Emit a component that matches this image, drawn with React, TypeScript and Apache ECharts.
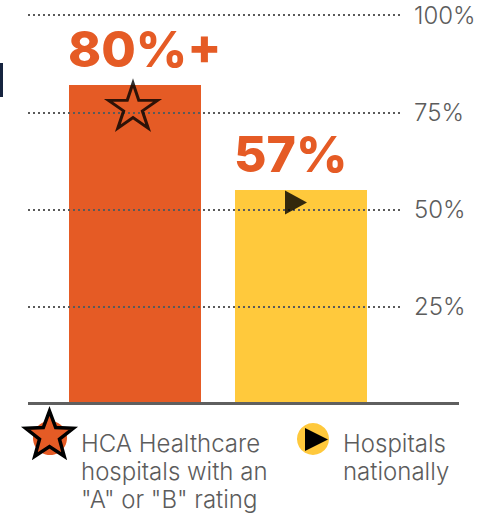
import React, { useEffect, useRef } from "react";
import * as echarts from "echarts";

const categories = ["HCA Healthcare hospitals with an \"A\" or \"B\" rating", "Hospitals nationally"];
const barValues = [82, 55];
const barLabels = ["80%+", "57%"];
const markerValues = [76.7, 51.8];
const barColors = ["#E55B25", "#FFC93C"];
const tickValues = [0, 25, 50, 75, 100];
const legendLines1 = ["HCA Healthcare", "hospitals with an", "\"A\" or \"B\" rating"];
const legendLines2 = ["Hospitals", "nationally"];

const STAR_PATH =
  "path://M50 0 L61.23 34.55 L97.55 34.55 L68.16 55.9 L79.39 90.45 L50 69.1 L20.61 90.45 L31.84 55.9 L2.45 34.55 L38.77 34.55 Z";

function starPoints(cx: number, cy: number, R: number, r: number): number[][] {
  const pts: number[][] = [];
  for (let i = 0; i < 10; i++) {
    const a = ((-90 + i * 36) * Math.PI) / 180;
    const rad = i % 2 === 0 ? R : r;
    pts.push([cx + rad * Math.cos(a), cy + rad * Math.sin(a)]);
  }
  return pts;
}

const GRAY = "#5c5c5c";
const FONT = "Inter, Lato, sans-serif";

export default function App() {
  const ref = useRef<HTMLDivElement>(null);
  useEffect(() => {
    if (!ref.current) return;
    const chart = echarts.init(ref.current, null, { renderer: "svg" });
    const gridTop = 15;
    const gridBottom = 110;
    const legendText = (t: string, x: number, i: number) => ({
      type: "text",
      x,
      y: 443 + i * 28.3,
      style: {
        text: t,
        fontSize: 24,
        fontFamily: FONT,
        fontWeight: 300,
        fill: GRAY,
        verticalAlign: "middle",
      },
    });
    const option: any = {
      animation: false,
      backgroundColor: "#ffffff",
      grid: [
        { left: 28, right: 87, top: gridTop, bottom: gridBottom },
        { left: 52, right: 103, top: gridTop, bottom: gridBottom },
      ],
      xAxis: [
        { gridIndex: 0, type: "category", data: categories, show: false },
        {
          gridIndex: 1,
          type: "category",
          data: categories,
          axisLine: { show: false },
          axisTick: { show: false },
          axisLabel: { show: false },
        },
      ],
      yAxis: [
        {
          gridIndex: 0,
          type: "value",
          min: tickValues[0],
          max: tickValues[tickValues.length - 1],
          interval: 25,
          position: "right",
          z: 10,
          axisLine: { show: false },
          axisTick: { show: false },
          axisLabel: {
            margin: 14,
            fontSize: 24,
            fontFamily: FONT,
            fontWeight: 300,
            color: GRAY,
            formatter: (v: number) => (v === 0 ? "" : v + "%"),
          },
          splitLine: {
            show: true,
            lineStyle: { color: "#5a5a5a", width: 2, type: [2, 3] },
          },
        },
        {
          gridIndex: 1,
          type: "value",
          min: 0,
          max: 100,
          show: false,
          splitLine: { show: false },
        },
      ],
      series: [
        {
          type: "bar",
          xAxisIndex: 1,
          yAxisIndex: 1,
          barWidth: 132,
          data: barValues.map((v, i) => ({ value: v, itemStyle: { color: barColors[i] } })),
          label: {
            show: true,
            position: [-1, -36],
            align: "left",
            verticalAlign: "middle",
            fontSize: 50,
            fontWeight: 800,
            fontFamily: FONT,
            color: "#E55B25",
            formatter: (p: any) => barLabels[p.dataIndex],
          },
        },
        {
          type: "scatter",
          xAxisIndex: 1,
          yAxisIndex: 1,
          z: 12,
          data: [
            {
              value: markerValues[0],
              symbol: STAR_PATH,
              symbolSize: [49, 45],
              symbolOffset: [-2, 0],
              itemStyle: { color: "rgba(0,0,0,0)", borderColor: "#000000", borderWidth: 3 },
            },
            {
              value: markerValues[1],
              symbol: "triangle",
              symbolSize: [24, 22],
              symbolRotate: -90,
              symbolOffset: [-5, 0],
              itemStyle: { color: "#000000" },
            },
          ],
        },
      ],
      graphic: [
        { type: "rect", shape: { x: 0, y: 63, width: 3, height: 34 }, style: { fill: "#16243f" } },
        {
          type: "line",
          z: 20,
          shape: { x1: 28, y1: 403.5, x2: 459, y2: 403.5 },
          style: { stroke: "#5f5f5f", lineWidth: 3 },
        },
        { type: "circle", shape: { cx: 50, cy: 438, r: 17 }, style: { fill: "#E55B25" } },
        {
          type: "polygon",
          shape: { points: starPoints(49.5, 436, 25, 10.5) },
          style: { fill: "#E55B25", stroke: "#000000", lineWidth: 3.5, lineJoin: "miter" },
        },
        { type: "circle", shape: { cx: 313, cy: 439, r: 16 }, style: { fill: "#FFC93C" } },
        {
          type: "polygon",
          shape: { points: [[305, 428], [305, 451], [328, 439.5]] },
          style: { fill: "#000000" },
        },
        ...legendLines1.map((t, i) => legendText(t, 81, i)),
        ...legendLines2.map((t, i) => legendText(t, 343, i)),
      ],
    };
    chart.setOption(option);
    return () => chart.dispose();
  }, []);
  return <div ref={ref} style={{ width: 487, height: 514, position: "absolute", left: 0, top: 0 }} />;
}
